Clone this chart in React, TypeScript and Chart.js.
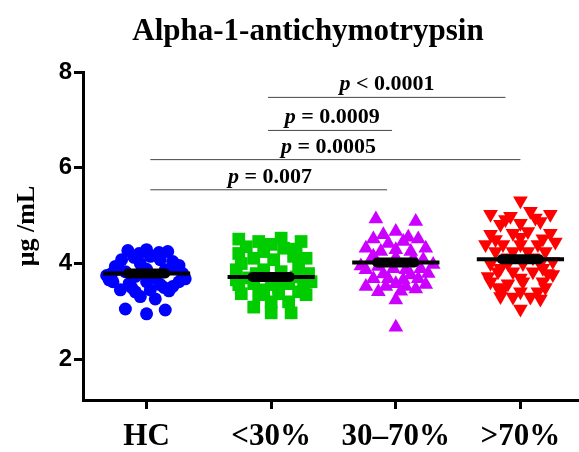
import { useEffect, useRef } from 'react';
import { Chart, registerables } from 'chart.js';

Chart.register(...registerables);

const chartTitle = 'Alpha-1-antichymotrypsin';
const yAxisTitle = 'μg /mL';
const categories = ['HC', '<30%', '30–70%', '>70%'];
const yTickValues = [2, 4, 6, 8];

// x offsets (in category units, around each category centre) and values (μg/mL)
const hcOffset = [-0.15, 0.0, 0.17, -0.2, -0.1, 0.03, 0.11, 0.21, 0.26, -0.25, -0.05, -0.28, 0.29, -0.17, 0.15, -0.27, -0.14, 0.0, 0.11, 0.26, -0.21, -0.09, 0.03, 0.18, 0.07, -0.05, -0.17, 0.0, 0.15, -0.09, 0.07, 0.21, -0.3, 0.31, -0.06, 0.1, -0.22, 0.22, 0.0, -0.12, 0.14, -0.32];
const hcValues = [4.27, 4.29, 4.25, 4.08, 4.13, 4.15, 4.08, 4.04, 3.96, 3.94, 4.0, 3.79, 3.79, 3.83, 3.87, 3.62, 3.58, 3.62, 3.56, 3.62, 3.45, 3.41, 3.45, 3.43, 3.26, 3.31, 3.05, 2.95, 3.03, 3.73, 3.7, 3.52, 3.66, 3.68, 4.21, 4.23, 3.88, 3.9, 3.88, 3.5, 3.5, 3.75];

const lowOffset = [-0.26, -0.1, 0.08, 0.24, -0.26, -0.06, 0.1, 0.18, 0.28, -0.24, -0.14, 0.02, 0.22, -0.28, -0.06, 0.3, -0.26, -0.14, 0.0, 0.14, 0.26, -0.24, -0.1, 0.06, 0.22, 0.28, -0.14, 0.0, 0.16, 0.0, 0.14, -0.28, 0.32, 0.08, -0.12, -0.2, 0.2, 0.0, -0.18, 0.2, 0.06, -0.06];
const lowValues = [4.51, 4.46, 4.53, 4.46, 4.21, 4.25, 4.32, 4.15, 4.11, 4.0, 4.11, 4.08, 3.94, 3.87, 3.87, 3.79, 3.56, 3.58, 3.56, 3.58, 3.56, 3.37, 3.35, 3.37, 3.41, 3.35, 3.09, 2.97, 2.97, 3.2, 3.2, 3.66, 3.62, 3.83, 3.79, 4.35, 4.3, 4.4, 3.7, 3.72, 3.5, 3.45];

const midOffset = [-0.16, 0.16, 0.0, -0.18, 0.18, -0.24, -0.06, 0.06, 0.24, -0.12, 0.0, 0.12, -0.2, 0.22, -0.24, -0.14, -0.02, 0.08, 0.2, 0.26, -0.18, -0.06, 0.06, 0.18, -0.24, -0.14, -0.08, 0.08, 0.16, 0.24, 0.0, 0.0, -0.1, 0.1, -0.18, 0.0, 0.14, -0.1, 0.12, 0.0, 0.04, -0.28, 0.3];
const midValues = [4.93, 4.88, 4.67, 4.51, 4.51, 4.32, 4.42, 4.46, 4.32, 4.25, 4.29, 4.25, 4.08, 4.08, 3.87, 3.94, 3.89, 3.87, 3.89, 3.79, 3.68, 3.68, 3.66, 3.68, 3.52, 3.41, 3.52, 3.52, 3.47, 3.56, 3.24, 2.67, 4.6, 4.55, 4.15, 4.12, 4.1, 3.78, 3.76, 3.58, 3.42, 3.95, 3.98];

const highOffset = [0.0, -0.24, -0.08, 0.08, 0.24, -0.16, 0.0, 0.16, -0.24, -0.06, 0.06, 0.24, -0.14, 0.0, 0.14, -0.2, -0.06, 0.06, 0.2, -0.24, -0.1, 0.02, 0.16, 0.26, -0.18, -0.06, 0.1, 0.22, -0.24, -0.1, 0.02, 0.18, -0.14, 0.0, 0.14, -0.16, 0.16, 0.0, -0.26, 0.26, -0.12, 0.12, -0.2, 0.18, -0.1, 0.1, -0.16, 0.18, 0.0, -0.18, 0.2, 0.08, -0.06, 0.28, -0.28, 0.0];
const highValues = [5.31, 5.03, 4.99, 5.09, 5.03, 4.82, 4.84, 4.88, 4.61, 4.63, 4.67, 4.63, 4.4, 4.4, 4.4, 4.25, 4.25, 4.25, 4.25, 4.0, 4.0, 4.0, 4.0, 4.04, 3.83, 3.83, 3.83, 3.79, 3.62, 3.58, 3.62, 3.62, 3.45, 3.41, 3.41, 3.31, 3.26, 3.05, 3.73, 3.77, 4.92, 4.95, 4.5, 4.52, 4.12, 4.12, 3.9, 3.9, 3.7, 3.5, 3.5, 3.3, 3.3, 4.45, 4.4, 4.55];

const groupMeans = [3.79, 3.72, 4.02, 4.09];

// significance brackets
const sigText = ['= 0.007', '= 0.0005', '= 0.0009', '< 0.0001'];
const sigFrom = [0.03, 0.03, 0.975, 0.975];
const sigTo = [1.93, 3.0, 1.97, 2.88];
const sigLevel = [5.54, 6.17, 6.78, 7.47];
const sigTextX = [0.99, 1.46, 1.49, 1.93];

const groupOffsets = [hcOffset, lowOffset, midOffset, highOffset];
const groupValues = [hcValues, lowValues, midValues, highValues];
const groupColors = ['#0000FF', '#00CC00', '#CC00FF', '#FF0000'];
const groupStyles = ['circle', 'rect', 'triangle', 'triangle'];
const groupRadius = [6.5, 9, 8.5, 8.5];
const groupRotation = [0, 0, 0, 180];

const SERIF = '"Liberation Serif", "Times New Roman", serif';

const annotations = {
  id: 'annotations',
  afterDraw(chart: any) {
    const { ctx, scales } = chart;
    const x = scales.x;
    const y = scales.y;
    ctx.save();
    ctx.fillStyle = '#000';
    // title
    ctx.textAlign = 'center';
    ctx.textBaseline = 'middle';
    ctx.font = `bold 31px ${SERIF}`;
    ctx.fillText(chartTitle, 308, 32);
    // significance labels
    ctx.textAlign = 'left';
    ctx.textBaseline = 'alphabetic';
    sigText.forEach((t, i) => {
      const cx = x.getPixelForValue(sigTextX[i]);
      const py = y.getPixelForValue(sigLevel[i]) - 7;
      ctx.font = `italic bold 22px ${SERIF}`;
      const w1 = ctx.measureText('p ').width;
      ctx.font = `bold 22px ${SERIF}`;
      const w2 = ctx.measureText(t).width;
      const sx = cx - (w1 + w2) / 2;
      ctx.font = `italic bold 22px ${SERIF}`;
      ctx.fillText('p', sx, py);
      ctx.font = `bold 22px ${SERIF}`;
      ctx.fillText(t, sx + w1, py);
    });
    // y axis title
    ctx.translate(27, 226);
    ctx.rotate(-Math.PI / 2);
    ctx.textAlign = 'center';
    ctx.textBaseline = 'middle';
    ctx.font = `bold 26px ${SERIF}`;
    ctx.fillText(yAxisTitle, 0, 0);
    ctx.restore();
  },
};

export default function App() {
  const ref = useRef<HTMLCanvasElement | null>(null);
  useEffect(() => {
    if (!ref.current) return;
    const datasets: any[] = [];
    groupMeans.forEach((m, i) => {
      datasets.push({
        data: [{ x: i - 0.15, y: m }, { x: i + 0.15, y: m }],
        showLine: true,
        borderColor: '#000',
        borderWidth: 10,
        borderCapStyle: 'round',
        pointRadius: 0,
        order: 0,
      });
      datasets.push({
        data: [{ x: i - 0.35, y: m }, { x: i + 0.35, y: m }],
        showLine: true,
        borderColor: '#000',
        borderWidth: 4,
        pointRadius: 0,
        order: 1,
      });
    });
    groupValues.forEach((vals, i) => {
      datasets.push({
        data: vals.map((v, k) => ({ x: i + groupOffsets[i][k], y: v })),
        pointStyle: groupStyles[i],
        pointRadius: groupRadius[i],
        pointRotation: groupRotation[i],
        backgroundColor: groupColors[i],
        borderColor: groupColors[i],
        borderWidth: 0,
        order: 2,
      });
    });
    sigLevel.forEach((lv, i) => {
      datasets.push({
        data: [{ x: sigFrom[i], y: lv }, { x: sigTo[i], y: lv }],
        showLine: true,
        borderColor: '#444',
        borderWidth: 1,
        pointRadius: 0,
        order: 3,
      });
    });

    const chart = new Chart(ref.current, {
      type: 'scatter',
      data: { datasets },
      options: {
        responsive: false,
        animation: false,
        devicePixelRatio: 1,
        layout: { autoPadding: false, padding: { top: 72, left: 0, right: 0, bottom: 0 } },
        plugins: { legend: { display: false }, tooltip: { enabled: false }, title: { display: false } },
        scales: {
          x: {
            type: 'linear',
            min: -0.51,
            max: 3.47,
            afterBuildTicks: (s: any) => {
              s.ticks = categories.map((_, i) => ({ value: i }));
            },
            afterFit: (s: any) => {
              s.height = 52;
              s.paddingLeft = 0;
              s.paddingRight = 0;
            },
            ticks: {
              autoSkip: false,
              maxRotation: 0,
              padding: 9,
              color: '#000',
              font: { family: SERIF, size: 31, weight: 'bold' },
              callback: (v: any) => categories[v] ?? '',
            },
            grid: { drawOnChartArea: false, drawTicks: true, tickLength: 9, lineWidth: 3, color: '#000' },
            border: { display: true, width: 3, color: '#000' },
          },
          y: {
            min: 1.15,
            max: 8,
            afterBuildTicks: (s: any) => {
              s.ticks = yTickValues.map((v) => ({ value: v }));
            },
            afterFit: (s: any) => {
              s.width = 83;
              s.paddingTop = 0;
              s.paddingBottom = 0;
            },
            ticks: {
              autoSkip: false,
              padding: 2,
              color: '#000',
              font: { family: '"Liberation Sans", Arial, sans-serif', size: 24, weight: 'bold' },
            },
            grid: { drawOnChartArea: false, drawTicks: true, tickLength: 9, lineWidth: 3, color: '#000' },
            border: { display: true, width: 3, color: '#000' },
          },
        },
      } as any,
      plugins: [annotations],
    });
    return () => chart.destroy();
  }, []);
  return (
    <div style={{ position: 'fixed', left: 0, top: 0, width: 579, height: 452, background: '#fff' }}>
      <canvas ref={ref} width={579} height={452} style={{ width: 579, height: 452 }} />
    </div>
  );
}
